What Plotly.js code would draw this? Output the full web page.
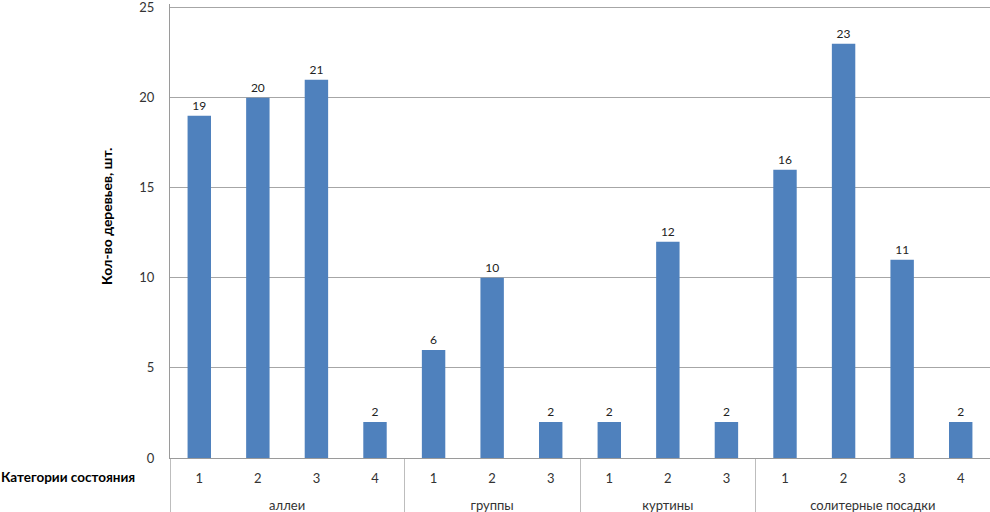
<!DOCTYPE html>
<html>
<head>
<meta charset="utf-8">
<script src="https://cdn.plot.ly/plotly-3.0.1.min.js"></script>
<style>html,body{margin:0;padding:0;background:#fff;}#chart{width:990px;height:512px;}</style>
</head>
<body>
<div id="chart"></div>
<script>
const groups = ["аллеи","аллеи","аллеи","аллеи","группы","группы","группы","куртины","куртины","куртины","солитерные посадки","солитерные посадки","солитерные посадки","солитерные посадки"];
const conditionCategories = ["1","2","3","4","1","2","3","1","2","3","1","2","3","4"];
const treeCounts = [19,20,21,2,6,10,2,2,12,2,16,23,11,2];
const yTitle = "Кол-во деревьев, шт.";
const xCaption = "Категории состояния";

const font = "Lato, 'Open Sans', sans-serif";
// a leading line break pushes the group row down, as in the reference
const groupLabels = groups.map(g => "<br>" + g);
const trace = {
  type: "bar",
  x: [groupLabels, conditionCategories],
  y: treeCounts,
  marker: {color: "#4F81BD", line: {width: 0}},
  text: treeCounts.map(String),
  textposition: "outside",
  cliponaxis: false,
  textfont: {family: font, size: 12, color: "#222"},
  hoverinfo: "none"
};
const layout = {
  width: 990, height: 512,
  margin: {l: 170, r: 0, t: 4, b: 54, pad: 0},
  paper_bgcolor: "#fff", plot_bgcolor: "#fff",
  showlegend: false,
  bargap: 0.6,
  font: {family: font, size: 13, color: "#333"},
  xaxis: {
    type: "multicategory",
    showline: true, linecolor: "#9a9a9a", linewidth: 1,
    showgrid: false, ticks: "",
    ticklabelstandoff: 8,
    showdividers: true, dividercolor: "#bdbdbd", dividerwidth: 1,
    tickfont: {family: font, size: 13, color: "#333"}
  },
  yaxis: {
    range: [0, 25.2], tickvals: [0, 5, 10, 15, 20, 25],
    showline: true, linecolor: "#9a9a9a", linewidth: 1,
    gridcolor: "#a6a6a6", gridwidth: 1,
    zeroline: false, ticks: "",
    ticklabelstandoff: 12,
    ticklabeloverflow: "allow",
    tickfont: {family: font, size: 13, color: "#333"}
  },
  annotations: [{
    text: "<b>" + xCaption + "</b>", xref: "paper", yref: "paper",
    x: (137 - 170) / 820, y: -(477 - 458) / 454, xanchor: "right", yanchor: "middle",
    showarrow: false, font: {family: font, size: 13.5, color: "#000"}
  }, {
    text: "<b>" + yTitle + "</b>", xref: "paper", yref: "paper",
    x: (106 - 170) / 820, y: (458 - 217) / 454, xanchor: "center", yanchor: "middle",
    textangle: -90,
    showarrow: false, font: {family: font, size: 14, color: "#000"}
  }]
};
Plotly.newPlot("chart", [trace], layout, {displayModeBar: false, staticPlot: true});
</script>
</body>
</html>
